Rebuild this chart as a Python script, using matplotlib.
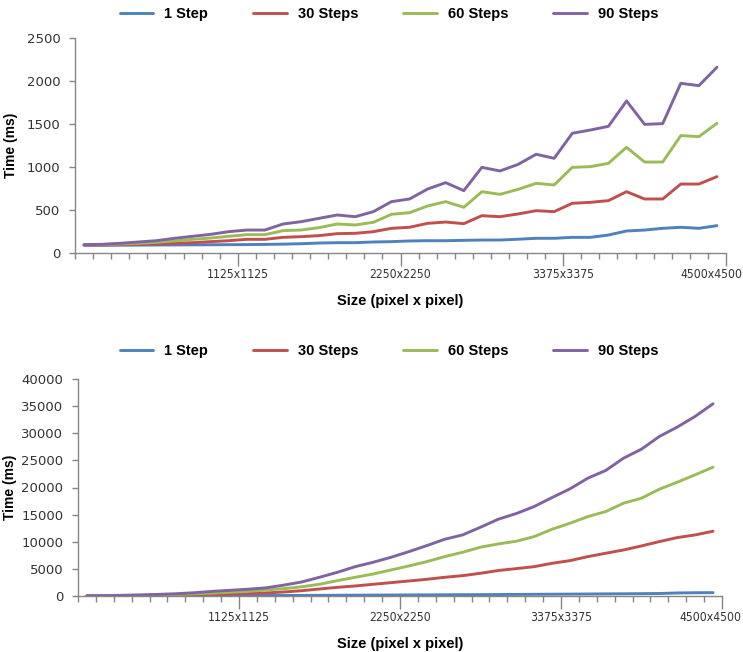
import matplotlib
matplotlib.use('Agg')
import matplotlib.pyplot as plt
import matplotlib.transforms as mtransforms
from matplotlib.ticker import FixedLocator, MultipleLocator
import numpy as np

# Category sizes: 125x125 ... 4500x4500 (36 categories)
sizes = [f"{125 * k}x{125 * k}" for k in range(1, 37)]
label_every = 9

series_names = ['1 Step', '30 Steps', '60 Steps', '90 Steps']
colors = ['#4F81BD', '#C0504D', '#9BBB59', '#8064A2']

# Top chart (ms)
top_1 = [90, 90, 91, 92, 93, 94, 95, 96, 97, 98, 100, 103,
         108, 116, 120, 120, 128, 132, 140, 143, 143, 147, 151, 151,
         160, 171, 171, 182, 182, 209, 256, 267, 287, 299, 287, 318]
top_30 = [93, 93, 97, 101, 105, 113, 120, 132, 143, 159, 159, 182,
          190, 202, 225, 229, 248, 287, 299, 345, 360, 341, 434, 422,
          454, 492, 481, 578, 589, 609, 713, 628, 628, 802, 802, 888]
top_60 = [97, 97, 105, 113, 124, 140, 159, 174, 194, 213, 213, 260,
          267, 295, 337, 326, 357, 450, 469, 547, 597, 531, 713, 682,
          740, 810, 791, 996, 1004, 1043, 1229, 1058, 1058, 1365, 1353, 1508]
top_90 = [97, 101, 113, 128, 143, 171, 194, 217, 248, 267, 267, 337,
          364, 403, 442, 422, 481, 597, 628, 744, 818, 725, 996, 954,
          1030, 1148, 1101, 1392, 1430, 1473, 1768, 1496, 1504, 1973, 1946, 2160]

# Bottom chart (ms)
bot_1 = [10, 15, 20, 25, 30, 40, 50, 60, 70, 80, 90, 100,
         110, 120, 135, 150, 165, 180, 195, 210, 225, 240, 255, 270,
         290, 310, 330, 350, 370, 390, 410, 430, 460, 560, 600, 620]
bot_30 = [20, 30, 50, 80, 110, 150, 200, 270, 350, 450, 560, 740,
          980, 1290, 1600, 1850, 2160, 2460, 2770, 3080, 3450, 3750, 4190, 4700,
          5050, 5410, 6030, 6520, 7260, 7880, 8490, 9230, 10030, 10770, 11260, 11940]
bot_60 = [30, 50, 90, 140, 200, 280, 400, 550, 700, 850, 1100, 1350,
          1700, 2160, 2830, 3450, 4060, 4800, 5540, 6340, 7260, 8060, 9000, 9600,
          10100, 10950, 12310, 13410, 14640, 15570, 17110, 18030, 19690, 20980, 22340, 23750]
bot_90 = [40, 70, 130, 200, 300, 420, 600, 850, 1050, 1250, 1500, 2000,
          2584, 3450, 4370, 5410, 6220, 7140, 8180, 9290, 10460, 11260, 12680, 14160,
          15200, 16490, 18150, 19750, 21720, 23140, 25410, 27070, 29410, 31140, 33110, 35440]

axis_gray = '#868686'
bold_font = ['Liberation Sans', 'DejaVu Sans']


def draw_panel(fig, rect, data, ymax, ystep, legend_y, ylabel_x, last_shift):
    ax = fig.add_axes(rect)
    x = np.arange(len(sizes))
    for vals, name, c in zip(data, series_names, colors):
        ax.plot(x, vals, color=c, linewidth=2.1, label=name, solid_capstyle='round')

    ax.set_xlim(-0.5, len(sizes) - 0.5)
    ax.set_ylim(0, ymax)
    ax.yaxis.set_major_locator(MultipleLocator(ystep))

    major_pos = [i + 0.5 for i in range(label_every - 1, len(sizes), label_every)]
    major_lab = [sizes[i] for i in range(label_every - 1, len(sizes), label_every)]
    ax.xaxis.set_major_locator(FixedLocator(major_pos))
    ax.set_xticklabels(major_lab)
    ax.xaxis.set_minor_locator(FixedLocator(np.arange(-0.5, len(sizes), 1.0)))

    for s in ['top', 'right']:
        ax.spines[s].set_visible(False)
    for s in ['left', 'bottom']:
        ax.spines[s].set_color(axis_gray)
        ax.spines[s].set_linewidth(1.0)

    ax.tick_params(axis='y', which='major', length=4.5, width=1.0, color=axis_gray,
                   direction='out', pad=6, labelsize=9.5, labelcolor='#333333')
    ax.tick_params(axis='x', which='major', length=9, width=1.0, color=axis_gray,
                   direction='out', pad=2)
    ax.tick_params(axis='x', which='minor', length=4, width=1.0, color=axis_gray,
                   direction='out')
    xlabels = ax.get_xticklabels()
    for lab in xlabels:
        lab.set_fontfamily('DejaVu Sans')
        lab.set_fontstretch('condensed')
        lab.set_fontsize(8.7)
        lab.set_color('#333333')
    # last label is pulled inward so it stays inside the picture
    shift = mtransforms.ScaledTranslation(-last_shift / 100, 0, fig.dpi_scale_trans)
    xlabels[-1].set_transform(xlabels[-1].get_transform() + shift)

    ax.set_ylabel('Time (ms)', fontsize=10, fontweight='bold',
                  fontfamily=bold_font, color='black')
    ax.yaxis.set_label_coords(ylabel_x, 0.5)
    ax.set_xlabel('Size (pixel x pixel)', fontsize=10.5, fontweight='bold',
                  fontfamily=bold_font, color='black', labelpad=9)

    fig.legend(*ax.get_legend_handles_labels(), loc='center', ncol=4,
               bbox_to_anchor=(389 / 743, legend_y), frameon=False,
               handlelength=2.3, handletextpad=0.75, columnspacing=3.1,
               prop={'family': bold_font, 'weight': 'bold', 'size': 10.5})
    return ax


fig = plt.figure(figsize=(7.43, 6.52), dpi=100)

W, H = 743.0, 652.0
draw_panel(fig, [75 / W, 1 - 253 / H, (726 - 75) / W, (253 - 38) / H],
           [top_1, top_30, top_60, top_90], 2500, 500, 1 - 14 / H, -0.087, 15)
draw_panel(fig, [78 / W, 1 - 596 / H, (722 - 78) / W, (596 - 379) / H],
           [bot_1, bot_30, bot_60, bot_90], 40000, 5000, 1 - 351 / H, -0.095, 12)

fig.savefig('out.png', dpi=100)
plt.close(fig)
